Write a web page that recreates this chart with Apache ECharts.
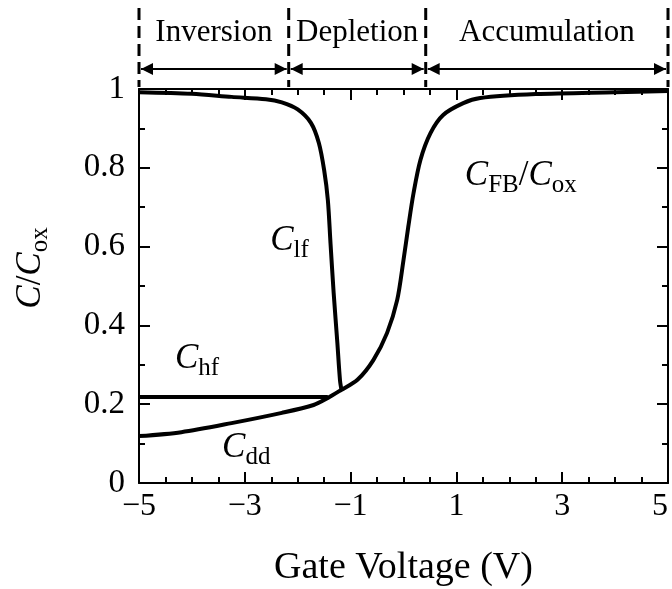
<!DOCTYPE html>
<html>
<head>
<meta charset="utf-8">
<script src="https://cdn.jsdelivr.net/npm/echarts@6/dist/echarts.min.js"></script>
<style>
html, body { margin: 0; background: #fff; }
#chart { width: 672px; height: 589px; }
</style>
</head>
<body>
<div id="chart"></div>
<script>
// 低频 C-V 曲线 (Clf)
const lfVoltage = [-5, -4, -3.25, -2.6, -2.3, -2.0, -1.75, -1.6, -1.5, -1.43, -1.38, -1.32, -1.25, -1.2, -1.17];
const lfValue = [0.992, 0.988, 0.98, 0.974, 0.966, 0.948, 0.914, 0.863, 0.794, 0.718, 0.609, 0.482, 0.355, 0.26, 0.235];
// 高频 (Chf)
const hfVoltage = [-5, -1.43];
const hfValue = [0.218, 0.218];
// 深耗尽 (Cdd) + 积累区共用段
const ddVoltage = [-5, -4.2, -3.25, -2.3, -1.7, -1.43, -1.18, -0.87, -0.57, -0.31, -0.12, 0.0, 0.09, 0.19, 0.32, 0.51, 0.75, 1.13, 1.45, 2.5, 4, 5];
const ddValue = [0.119, 0.129, 0.152, 0.178, 0.198, 0.216, 0.236, 0.262, 0.312, 0.381, 0.464, 0.566, 0.65, 0.736, 0.82, 0.888, 0.934, 0.964, 0.977, 0.987, 0.992, 0.995];
// 区域分界
const regionEdges = [-5, -2.17, 0.42, 5];
const regionNames = ['Inversion', 'Depletion', 'Accumulation'];

const FONT = '"Liberation Serif", "Times New Roman", serif';
const chart = echarts.init(document.getElementById('chart'));

function pairs(xs, ys) {
	return xs.map((x, i) => [x, ys[i]]);
}

const tickStyle = { color: '#000', width: 2 };

function xAxisBase(pos, showLabel) {
	return {
		type: 'value',
		position: pos,
		min: -5,
		max: 5,
		interval: 2,
		axisLine: { show: true, onZero: false, lineStyle: { color: '#000', width: 2 } },
		axisTick: { show: true, inside: true, length: 11, lineStyle: tickStyle },
		minorTick: { show: true, splitNumber: 4, length: 6, lineStyle: tickStyle },
		splitLine: { show: false },
		axisLabel: {
			show: showLabel,
			color: '#000',
			fontSize: 32,
			fontFamily: FONT,
			margin: 8,
			alignMaxLabel: 'right',
			formatter: (v) => String(v).replace('-', '\u2212'),
		},
	};
}

function yAxisBase(pos, showLabel) {
	return {
		type: 'value',
		position: pos,
		min: 0,
		max: 1,
		interval: 0.2,
		axisLine: { show: true, onZero: false, lineStyle: { color: '#000', width: 2 } },
		axisTick: { show: true, inside: true, length: 11, lineStyle: tickStyle },
		minorTick: { show: true, splitNumber: 2, length: 6, lineStyle: tickStyle },
		splitLine: { show: false },
		axisLabel: {
			show: showLabel,
			color: '#000',
			fontSize: 33,
			fontFamily: FONT,
			margin: 14,
		},
	};
}

const richBase = {
	c: { fontSize: 35, fontStyle: 'italic', fontFamily: FONT, color: '#000', lineHeight: 44 },
	n: { fontSize: 35, fontFamily: FONT, color: '#000', lineHeight: 44 },
	s: { fontSize: 25, fontFamily: FONT, color: '#000', lineHeight: 24, verticalAlign: 'bottom' },
};

const xBottom = xAxisBase('bottom', true);
xBottom.name = 'Gate Voltage (V)';
xBottom.nameLocation = 'middle';
xBottom.nameGap = 66;
xBottom.nameTextStyle = { color: '#000', fontSize: 38, fontFamily: FONT };

const yLeft = yAxisBase('left', true);
yLeft.name = '{c|C}{n|/}{c|C}{s|ox}';
yLeft.nameLocation = 'middle';
yLeft.nameGap = 86;
yLeft.nameTextStyle = { rich: richBase, padding: [0, 0, 0, 36] };

const lineStyle = { color: '#000', width: 4 };

const option = {
	animation: false,
	backgroundColor: '#fff',
	grid: { left: 139, top: 89, width: 529, height: 394, outerBoundsMode: 'none' },
	xAxis: [xBottom, xAxisBase('top', false)],
	yAxis: [yLeft, yAxisBase('right', false)],
	series: [
		{
			name: 'Clf',
			type: 'line',
			data: pairs(lfVoltage, lfValue),
			smooth: 0.3,
			showSymbol: false,
			lineStyle: lineStyle,
		},
		{
			name: 'Chf',
			type: 'line',
			data: pairs(hfVoltage, hfValue),
			showSymbol: false,
			lineStyle: lineStyle,
		},
		{
			name: 'Cdd',
			type: 'line',
			data: pairs(ddVoltage, ddValue),
			smooth: 0.3,
			showSymbol: false,
			lineStyle: lineStyle,
		},
	],
};
chart.setOption(option);

// 顶部区域标注 + 曲线标签
const graphics = [];
const px = regionEdges.map((v) => chart.convertToPixel({ xAxisIndex: 0 }, v));
const arrowY = 69;
px.forEach((x) => {
	graphics.push({
		type: 'line',
		shape: { x1: x, y1: 8, x2: x, y2: 87 },
		style: { stroke: '#000', lineWidth: 3, lineDash: [12, 6] },
	});
});
for (let i = 0; i < regionNames.length; i++) {
	const a = px[i];
	const b = px[i + 1];
	graphics.push({
		type: 'line',
		shape: { x1: a + 2, y1: arrowY, x2: b - 2, y2: arrowY },
		style: { stroke: '#000', lineWidth: 2 },
	});
	graphics.push({
		type: 'polygon',
		shape: { points: [[a + 2, arrowY], [a + 14, arrowY - 6], [a + 14, arrowY + 6]] },
		style: { fill: '#000' },
	});
	graphics.push({
		type: 'polygon',
		shape: { points: [[b - 2, arrowY], [b - 14, arrowY - 6], [b - 14, arrowY + 6]] },
		style: { fill: '#000' },
	});
	graphics.push({
		type: 'text',
		x: (a + b) / 2,
		y: 33,
		style: {
			text: regionNames[i],
			fill: '#000',
			font: '31px ' + FONT,
			textAlign: 'center',
			textVerticalAlign: 'middle',
		},
	});
}

const curveLabels = [
	{ text: '{c|C}{s|lf}', at: [-2.52, 0.614] },
	{ text: '{c|C}{s|hf}', at: [-4.32, 0.315] },
	{ text: '{c|C}{s|dd}', at: [-3.43, 0.089] },
	{ text: '{c|C}{s|FB}{n|/}{c|C}{s|ox}', at: [1.16, 0.779] },
];
curveLabels.forEach((l) => {
	const p = chart.convertToPixel({ gridIndex: 0 }, l.at);
	graphics.push({
		type: 'text',
		x: p[0],
		y: p[1],
		style: {
			text: l.text,
			rich: richBase,
			textAlign: 'left',
			textVerticalAlign: 'middle',
		},
	});
});

chart.setOption({ graphic: graphics });
</script>
</body>
</html>
